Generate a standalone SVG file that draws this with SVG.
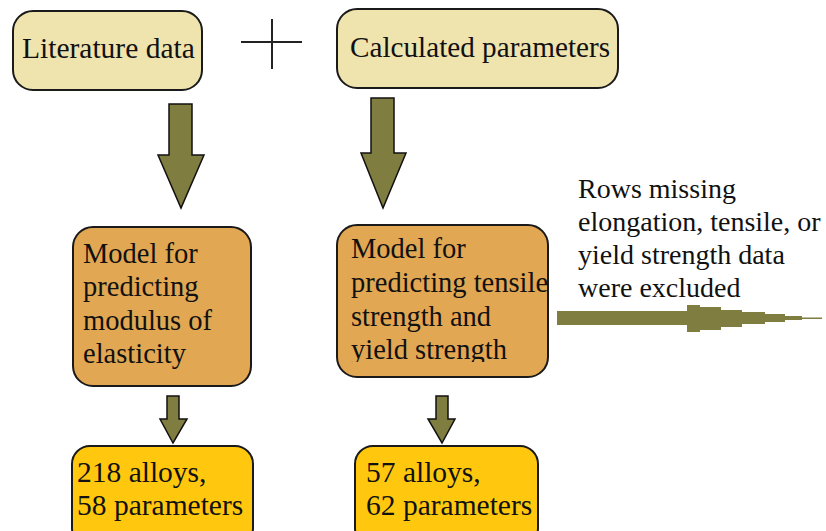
<svg xmlns="http://www.w3.org/2000/svg" width="826" height="531" viewBox="0 0 826 531">
  <style>
    .box { stroke: #1a1a1a; stroke-width: 2; }
    .src { fill: #EFE3AE; }
    .model { fill: #E2A753; }
    .result { fill: #FFC80E; }
    .arrow { fill: #807D40; stroke: #111; stroke-width: 1.5; stroke-linejoin: miter; }
    .flow { fill: #807D40; }
    .label { font-family: "Liberation Serif", "Times New Roman", "DejaVu Serif", serif; font-size: 28.5px; fill: #111; }
    .big { font-size: 29.5px; }
    .note { font-size: 28px; }
    .plus { stroke: #222; stroke-width: 2; }
  </style>
  <defs>
    <!-- text area of the strength model box; the last line is cut by it -->
    <clipPath id="clip-model-right">
      <rect x="337" y="225" width="230" height="137"/>
    </clipPath>
  </defs>

  <rect width="826" height="531" fill="#ffffff"/>

  <!-- Inputs -->
  <g id="literature-data">
    <rect class="box src" x="13" y="11" width="189" height="79" rx="20" ry="20"/>
    <text class="label big" x="22" y="58">Literature data</text>
  </g>

  <g id="plus-sign">
    <line class="plus" x1="241" y1="42" x2="302" y2="42"/>
    <line class="plus" x1="272" y1="19" x2="272" y2="69"/>
  </g>

  <g id="calculated-parameters">
    <rect class="box src" x="337" y="9" width="281" height="79" rx="20" ry="20"/>
    <text class="label" x="350" y="57" style="font-size:29.2px">Calculated parameters</text>
  </g>

  <!-- Models -->
  <g id="model-elasticity">
    <rect class="box model" x="73" y="227" width="178" height="159" rx="20" ry="20"/>
    <text class="label" x="83" y="263">Model for</text>
    <text class="label" x="83" y="296">predicting</text>
    <text class="label" x="83" y="330">modulus of</text>
    <text class="label" x="83" y="363">elasticity</text>
  </g>

  <g id="model-strength">
    <rect class="box model" x="337" y="225" width="211" height="152" rx="20" ry="20"/>
    <g clip-path="url(#clip-model-right)">
      <text class="label" x="351" y="258">Model for</text>
      <text class="label" x="351" y="292">predicting tensile</text>
      <text class="label" x="351" y="326">strength and</text>
      <text class="label" x="351" y="359">yield strength</text>
    </g>
  </g>

  <!-- Results -->
  <g id="result-elasticity">
    <rect class="box result" x="72" y="446" width="181" height="100" rx="18" ry="18"/>
    <text class="label big" x="77" y="482">218 alloys,</text>
    <text class="label big" x="77" y="515">58 parameters</text>
  </g>

  <g id="result-strength">
    <rect class="box result" x="355" y="446" width="183" height="100" rx="18" ry="18"/>
    <text class="label big" x="366" y="482">57 alloys,</text>
    <text class="label big" x="366" y="515">62 parameters</text>
  </g>

  <!-- Exclusion note -->
  <g id="exclusion-note">
    <text class="label note" x="578" y="198">Rows missing</text>
    <text class="label note" x="578" y="231">elongation, tensile, or</text>
    <text class="label note" x="578" y="264">yield strength data</text>
    <text class="label note" x="578" y="297">were excluded</text>
  </g>

  <!-- Connectors -->
  <g id="connectors">
    <polygon class="arrow" points="169,104 192,104 192,155 204,155 181,208 158,155 169,155"/>
    <polygon class="arrow" points="371,98 394,98 394,153 406,153 383,208 361,153 371,153"/>
    <polygon class="arrow" points="167,396 179,396 179,419 187,419 173,443 160,419 167,419"/>
    <polygon class="arrow" points="436,396 448,396 448,419 455,419 442,443 428,419 436,419"/>
    <polygon class="flow" points="557,311 687,311 687,305 700,305 700,307 721,307 721,310 742,310 742,312 765,312 765,314 785,314 785,316 802,316 802,317.5 822,317.5 822,319 802,319 802,320 785,320 785,322 765,322 765,324 742,324 742,327 721,327 721,330 700,330 700,332 687,332 687,325 557,325"/>
  </g>
</svg>
